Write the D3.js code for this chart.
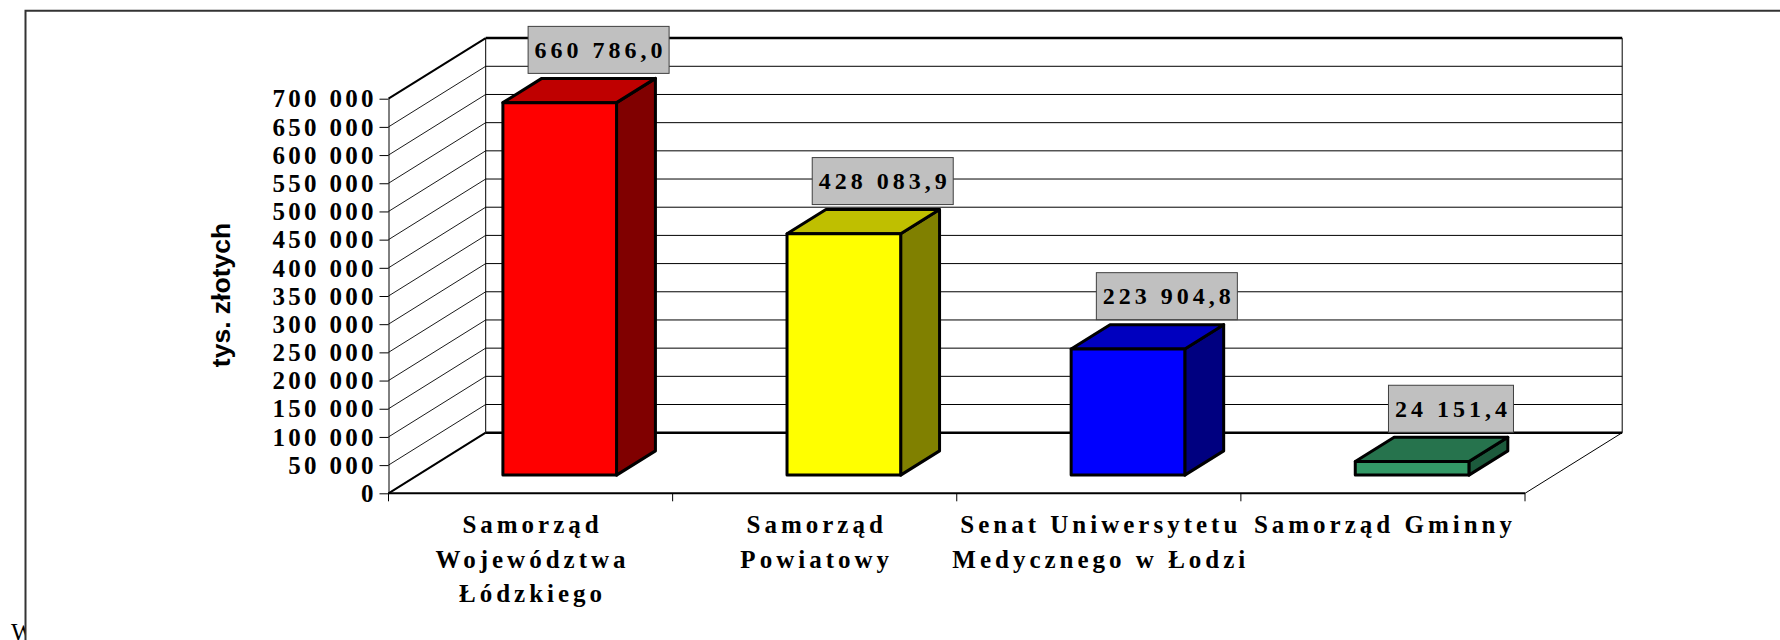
<!DOCTYPE html>
<html>
<head>
<meta charset="utf-8">
<script src="https://cdn.jsdelivr.net/npm/d3@7"></script>
<style>
  html, body { margin: 0; padding: 0; background: #fff; }
  svg { display: block; }
</style>
</head>
<body>
<svg id="chart" width="1780" height="640"></svg>
<script>
// ---- data ----
const categories = ["Samorząd Województwa Łódzkiego", "Samorząd Powiatowy", "Senat Uniwersytetu Medycznego w Łodzi", "Samorząd Gminny"];
const categoryLines = [
  ["Samorząd", "Województwa", "Łódzkiego"],
  ["Samorząd", "Powiatowy"],
  ["Senat Uniwersytetu", "Medycznego w Łodzi"],
  ["Samorząd Gminny"]
];
const values = [660786.0, 428083.9, 223904.8, 24151.4];
const yTicks = [0, 50000, 100000, 150000, 200000, 250000, 300000, 350000, 400000, 450000, 500000, 550000, 600000, 650000, 700000];
const yTitle = "tys. złotych";

// ---- styles ----
const frontColors = ["#ff0000", "#ffff00", "#0000ff", "#339966"];
const topColors   = ["#bf0000", "#bfbf00", "#0000bf", "#26734d"];
const sideColors  = ["#800000", "#808000", "#000080", "#1c5a3c"];

const svg = d3.select("#chart");
const serif = "'Liberation Serif', 'Times New Roman', serif";
const sans = "'Liberation Sans', Arial, sans-serif";

// ---- layout ----
const X0 = 388.5, X1 = 1525;
const DX = 97.2, DY = -60.6;    // depth vector of the 3D box
const zf = 0.3, zb = 0.7;       // bar depth extent (fraction)

const y = d3.scaleLinear().domain([0, 700000]).range([493.3, 98.7]);
const x = d3.scaleBand().domain(categories).range([X0, X1]).paddingInner(0.6).paddingOuter(0.3);
const bound = d3.scaleLinear().domain([0, categories.length]).range([X0, X1]);

const locale = d3.formatLocale({decimal: ",", thousands: "\u00a0", grouping: [3], currency: ["", ""]});
const fmtTick = locale.format(",.0f");
const fmtVal = locale.format(",.1f");

// frame
svg.append("defs").append("clipPath").attr("id", "wclip")
  .append("rect").attr("x", 0).attr("y", 560).attr("width", 25).attr("height", 80);
svg.append("text").attr("x", 11).attr("y", 641).attr("clip-path", "url(#wclip)")
  .style("font-family", serif).style("font-size", "25px").text("W");
svg.append("path").attr("d", "M25.5,640 L25.5,10.7 L1780,10.7")
  .attr("fill", "none").attr("stroke", "#333").attr("stroke-width", 2);

const g = svg.append("g");
const yMax = yTicks[yTicks.length - 1];

// back wall gridlines
g.selectAll("line.backgrid").data(yTicks).join("line")
  .attr("x1", X0 + DX).attr("x2", X1 + DX)
  .attr("y1", d => y(d) + DY).attr("y2", d => y(d) + DY)
  .attr("stroke", "#000")
  .attr("stroke-width", d => (d === 0 || d === yMax) ? 2.5 : 1);

// side wall diagonals
g.selectAll("line.sidegrid").data(yTicks).join("line")
  .attr("x1", X0).attr("x2", X0 + DX)
  .attr("y1", d => y(d)).attr("y2", d => y(d) + DY)
  .attr("stroke", "#000")
  .attr("stroke-width", d => (d === 0 || d === yMax) ? 2 : 0.9);

// back wall verticals
[X0 + DX, X1 + DX].forEach(xx => {
  g.append("line").attr("x1", xx).attr("x2", xx)
    .attr("y1", y(yMax) + DY).attr("y2", y(0) + DY)
    .attr("stroke", "#000").attr("stroke-width", 1);
});

// floor
g.append("line").attr("x1", X1).attr("y1", y(0)).attr("x2", X1 + DX).attr("y2", y(0) + DY)
  .attr("stroke", "#000").attr("stroke-width", 1);
g.append("line").attr("x1", X0).attr("y1", y(0)).attr("x2", X1).attr("y2", y(0))
  .attr("stroke", "#000").attr("stroke-width", 2);

// category ticks
g.selectAll("line.cattick").data(d3.range(categories.length + 1)).join("line")
  .attr("x1", d => bound(d)).attr("x2", d => bound(d))
  .attr("y1", y(0)).attr("y2", y(0) + 8)
  .attr("stroke", "#000").attr("stroke-width", 1);

// y axis
const yAxis = d3.axisLeft(y).tickValues(yTicks).tickSize(9).tickSizeOuter(0).tickPadding(6)
  .tickFormat(d => fmtTick(d));
const ya = g.append("g").attr("transform", `translate(${X0},0)`).call(yAxis);
ya.select(".domain").attr("stroke", "#000").attr("stroke-width", 1);
ya.selectAll(".tick line").attr("stroke", "#000");
ya.selectAll(".tick text")
  .attr("fill", "#000")
  .style("font-family", serif).style("font-weight", "bold").style("font-size", "25px")
  .style("letter-spacing", "3.3px")
  .attr("dx", "3.3px")
  .attr("dy", "0.33em");

// y title
g.append("text")
  .attr("transform", "translate(230,295) rotate(-90)")
  .attr("text-anchor", "middle")
  .style("font-family", sans).style("font-weight", "bold").style("font-size", "26.5px")
  .text(yTitle);

// bars
const bw = x.bandwidth();
const bdx = (zb - zf) * DX, bdy = (zb - zf) * DY;
const bars = g.selectAll("g.bar").data(values).join("g").attr("class", "bar");
bars.each(function(v, i) {
  const sel = d3.select(this);
  const fx = x(categories[i]) + zf * DX;
  const fy0 = y(0) + zf * DY;
  const fyt = y(v) + zf * DY;
  sel.append("polygon")
    .attr("points", [[fx + bw, fyt], [fx + bw + bdx, fyt + bdy], [fx + bw + bdx, fy0 + bdy], [fx + bw, fy0]].join(" "))
    .attr("fill", sideColors[i]).attr("stroke", "#000").attr("stroke-width", 3).attr("stroke-linejoin", "round");
  sel.append("polygon")
    .attr("points", [[fx, fyt], [fx + bw, fyt], [fx + bw + bdx, fyt + bdy], [fx + bdx, fyt + bdy]].join(" "))
    .attr("fill", topColors[i]).attr("stroke", "#000").attr("stroke-width", 3).attr("stroke-linejoin", "round");
  sel.append("rect")
    .attr("x", fx).attr("y", fyt).attr("width", bw).attr("height", fy0 - fyt)
    .attr("fill", frontColors[i]).attr("stroke", "#000").attr("stroke-width", 3).attr("stroke-linejoin", "round");
});

// data labels
values.forEach((v, i) => {
  const fx = x(categories[i]) + zf * DX;
  const fyt = y(v) + zf * DY;
  const cx = fx + bdx + bw / 2;
  const boxBottom = fyt + bdy - 5;
  const boxH = 47;
  const lg = g.append("g");
  const rect = lg.append("rect").attr("fill", "#c0c0c0").attr("stroke", "#404040").attr("stroke-width", 1);
  const t = lg.append("text")
    .attr("x", cx).attr("y", boxBottom - boxH / 2 + 8.2)
    .attr("text-anchor", "middle").attr("dx", "2px")
    .style("font-family", serif).style("font-weight", "bold").style("font-size", "24px")
    .style("letter-spacing", "4px")
    .text(fmtVal(v));
  const tw = t.node().getComputedTextLength() - 4;
  const bwid = tw + 13;
  rect.attr("x", cx - bwid / 2).attr("y", boxBottom - boxH).attr("width", bwid).attr("height", boxH);
});

// category labels
categoryLines.forEach((lines, i) => {
  const cx = bound(i + 0.5);
  const t = g.append("text")
    .attr("text-anchor", "middle")
    .style("font-family", serif).style("font-weight", "bold").style("font-size", "25px")
    .style("letter-spacing", "4px");
  lines.forEach((ln, j) => {
    t.append("tspan").attr("x", cx + 2).attr("y", 533.3 + j * 34.2).text(ln);
  });
});
</script>
</body>
</html>
